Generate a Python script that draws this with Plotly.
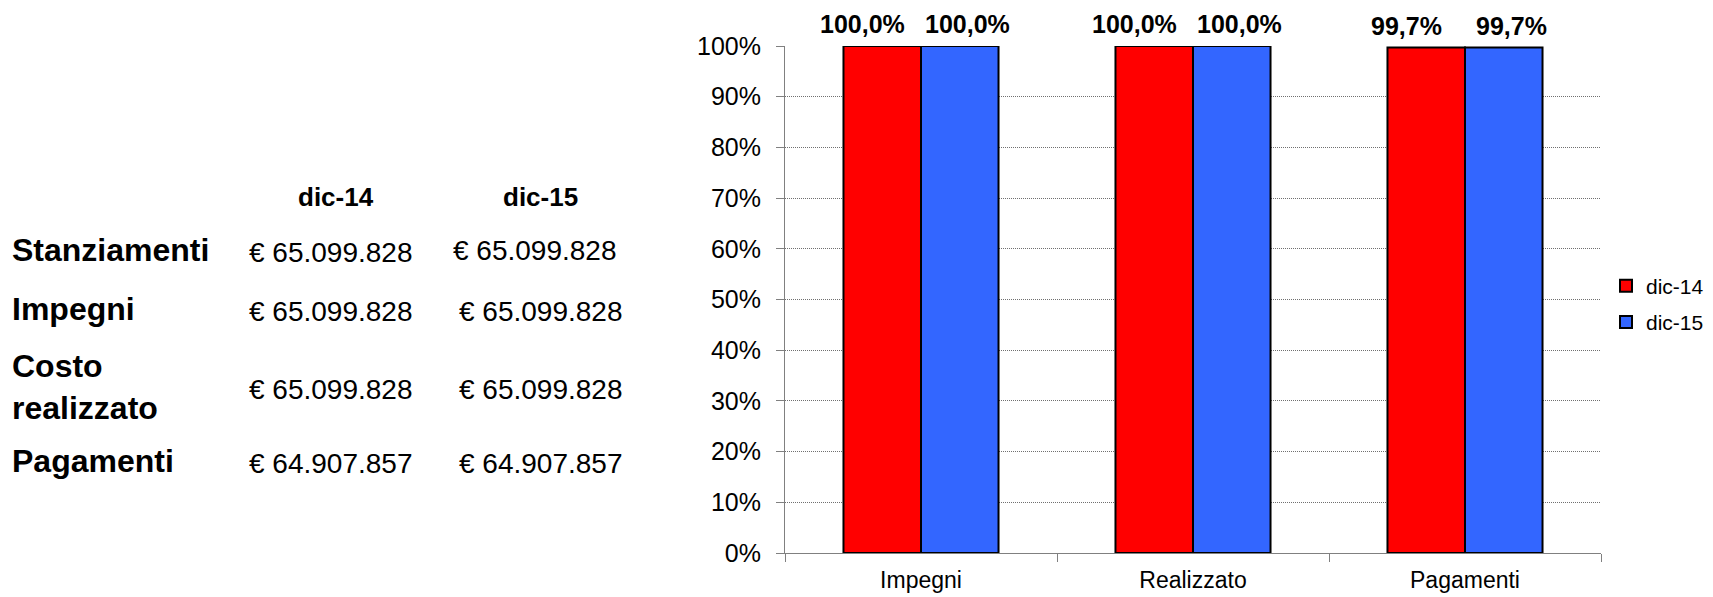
import plotly.graph_objects as go

# ---- data ----
categories = ["Impegni", "Realizzato", "Pagamenti"]
series_names = ["dic-14", "dic-15"]
dic14_pct = [1.000, 1.000, 0.997]
dic15_pct = [1.000, 1.000, 0.997]
series_colors = ["#FF0000", "#3366FF"]

table_rows = ["Stanziamenti", "Impegni", "Costo<br>realizzato", "Pagamenti"]
table_dic14 = ["€ 65.099.828", "€ 65.099.828", "€ 65.099.828", "€ 64.907.857"]
table_dic15 = ["€ 65.099.828", "€ 65.099.828", "€ 65.099.828", "€ 64.907.857"]

FONT = "Liberation Sans, Arial, sans-serif"

W, H = 1713, 597
ML, MR, MT, MB = 785, 112, 45.5, 44
PW = W - ML - MR
PH = H - MT - MB
BARGAP = 0.43
BAR_PX = PW / len(categories) * (1 - BARGAP) / len(series_names)
LABEL_NUDGE = [-20, 8]  # data-label spreading (px), per series


def px_x(px):
    return (px - ML) / PW


def px_y(py):
    return (H - MB - py) / PH


def fmt_pct(v):
    return f"{v*100:.1f}%".replace(".", ",")


fig = go.Figure()
annotations = []
nser = len(series_names)
for si, (name, vals, col) in enumerate(zip(series_names, [dic14_pct, dic15_pct], series_colors)):
    fig.add_trace(go.Bar(
        x=categories, y=vals, name=name, legendgroup=name,
        marker=dict(color=col, line=dict(color="#000000", width=2)),
        cliponaxis=False,
    ))
    for c, v in zip(categories, vals):
        annotations.append(dict(
            text=f"<b>{fmt_pct(v)}</b>", x=c, y=v, xref="x", yref="y",
            xshift=(si - (nser - 1) / 2) * BAR_PX + LABEL_NUDGE[si], yshift=6,
            showarrow=False, xanchor="center", yanchor="bottom",
            font=dict(family=FONT, size=25, color="#000000")))

# table header
col_x = [336, 540]
for name, cx in zip(series_names, col_x):
    annotations.append(dict(text=f"<b>{name}</b>", x=px_x(cx), y=px_y(197),
                            xref="paper", yref="paper", showarrow=False,
                            xanchor="center", yanchor="middle",
                            font=dict(family=FONT, size=26, color="#000000")))
row_y = [250, 309, 387, 461]
col1_x = 331
col2_x = [535, 541, 541, 541]
for i, (lab, v1, v2) in enumerate(zip(table_rows, table_dic14, table_dic15)):
    annotations.append(dict(text=f"<b>{lab}</b>", x=px_x(10), y=px_y(row_y[i]),
                            xref="paper", yref="paper", showarrow=False,
                            xanchor="left", yanchor="middle", align="left",
                            font=dict(family=FONT, size=32, color="#000000")))
    annotations.append(dict(text=v1, x=px_x(col1_x), y=px_y(row_y[i] + 2),
                            xref="paper", yref="paper", showarrow=False,
                            xanchor="center", yanchor="middle",
                            font=dict(family=FONT, size=28, color="#000000")))
    annotations.append(dict(text=v2, x=px_x(col2_x[i]), y=px_y(row_y[i] + (0 if i == 0 else 2)),
                            xref="paper", yref="paper", showarrow=False,
                            xanchor="center", yanchor="middle",
                            font=dict(family=FONT, size=28, color="#000000")))

fig.update_layout(
    width=W, height=H,
    margin=dict(l=ML, r=MR, t=MT, b=MB, pad=0, autoexpand=False),
    paper_bgcolor="#FFFFFF", plot_bgcolor="#FFFFFF",
    barmode="group", bargap=BARGAP, bargroupgap=0,
    font=dict(family=FONT, color="#000000"),
    showlegend=True,
    legend=dict(x=1606 / W, y=1 - 304 / H, xanchor="left", yanchor="middle",
                xref="container", yref="container",
                traceorder="grouped", tracegroupgap=6,
                font=dict(family=FONT, size=21, color="#000000"),
                itemwidth=30, bgcolor="rgba(0,0,0,0)"),
    annotations=annotations,
    xaxis=dict(
        showline=True, linecolor="#808080", linewidth=1,
        ticks="outside", tickson="boundaries", ticklen=8, tickcolor="#808080",
        tickfont=dict(family=FONT, size=23, color="#000000"),
        ticklabelstandoff=6,
        showgrid=False, zeroline=False, automargin=False,
    ),
    yaxis=dict(
        range=[0, 1], dtick=0.1, tickformat=".0%",
        showline=True, linecolor="#808080", linewidth=1,
        ticks="outside", ticklen=8, tickcolor="#808080",
        tickfont=dict(family=FONT, size=25, color="#000000"),
        ticklabelstandoff=10,
        showgrid=True, gridcolor="#707070", gridwidth=1, griddash="1px,1px",
        zeroline=False, automargin=False,
    ),
)

fig.write_html("out.html", config={"displayModeBar": False},
               post_script="document.body.style.margin='0';")
